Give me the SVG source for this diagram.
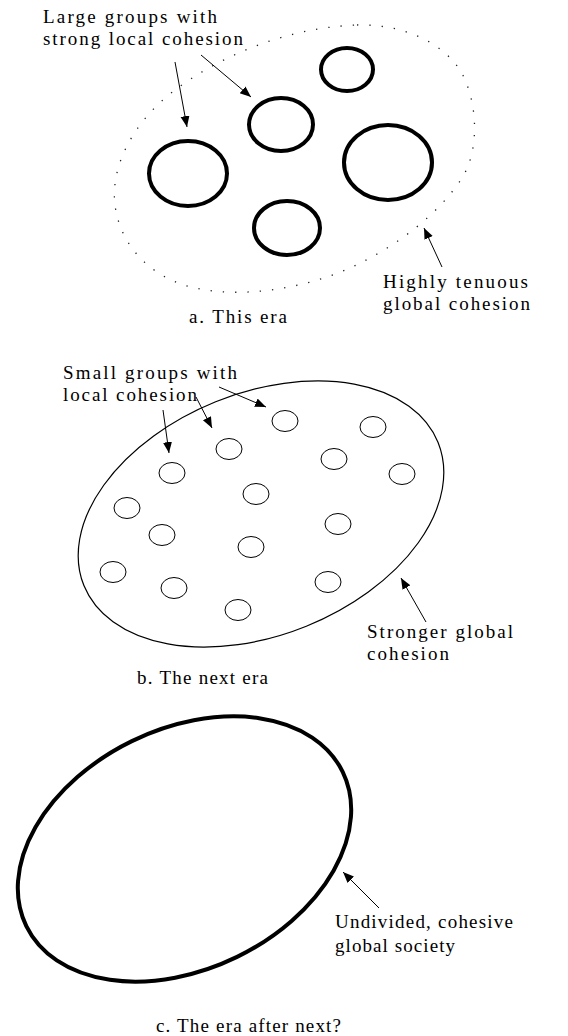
<svg xmlns="http://www.w3.org/2000/svg" width="568" height="1036" viewBox="0 0 568 1036">
<style>
  text { font-family: "Liberation Serif", "Times New Roman", serif; font-size: 19px; fill: #000; }
  .thick { fill: none; stroke: #000; stroke-width: 4; }
  .thin { fill: none; stroke: #000; stroke-width: 1.2; }
  .small { fill: none; stroke: #000; stroke-width: 1; }
  .dotted { fill: none; stroke: #222; stroke-width: 1.3; stroke-dasharray: 1.3 11; }
  .arrow { fill: none; stroke: #000; stroke-width: 1; marker-end: url(#ah); }
</style>
<defs>
  <marker id="ah" markerUnits="userSpaceOnUse" markerWidth="12" markerHeight="10" refX="11" refY="4.5" orient="auto">
    <path d="M0,0 L11,4.5 L0,9 z" fill="#000"/>
  </marker>
</defs>

<g id="era-a">
  <path id="a-global" class="dotted" d="M 357 25 C 400 24, 440 40, 460 70 C 478 100, 480 150, 462 178 C 440 212, 400 245, 350 268 C 300 290, 240 298, 195 288 C 150 278, 120 245, 115 205 C 110 165, 135 120, 175 90 C 215 60, 280 28, 357 25 Z"/>
  <g id="a-group1"><ellipse class="thick" cx="188" cy="173.5" rx="39" ry="32.5"/></g>
  <g id="a-group2"><ellipse class="thick" cx="281" cy="124.5" rx="32" ry="26.5"/></g>
  <g id="a-group3"><ellipse class="thick" cx="347" cy="69.5" rx="26" ry="21.5"/></g>
  <g id="a-group4"><ellipse class="thick" cx="388" cy="162.5" rx="44" ry="37.5"/></g>
  <g id="a-group5"><ellipse class="thick" cx="287" cy="228" rx="33" ry="27"/></g>
  <g id="a-label-large">
    <text x="43" y="23" textLength="174">Large groups with</text>
    <text x="43" y="45" textLength="200">strong local cohesion</text>
  </g>
  <g id="a-label-tenuous">
    <text x="383" y="288" textLength="145">Highly tenuous</text>
    <text x="383" y="310" textLength="147">global cohesion</text>
  </g>
  <g id="a-caption"><text x="189" y="323" textLength="98">a. This era</text></g>
</g>

<g id="era-b">
  <g id="b-global"><ellipse class="thin" cx="261" cy="514" rx="191" ry="121" transform="rotate(-22 261 514)"/></g>
  <g id="b-groups">
    <ellipse class="small" cx="285" cy="421" rx="13" ry="10.5"/>
    <ellipse class="small" cx="373" cy="427" rx="13" ry="10.5"/>
    <ellipse class="small" cx="229" cy="449" rx="13" ry="10.5"/>
    <ellipse class="small" cx="334" cy="459" rx="13" ry="10.5"/>
    <ellipse class="small" cx="172" cy="473" rx="13" ry="10.5"/>
    <ellipse class="small" cx="402" cy="474" rx="13" ry="10.5"/>
    <ellipse class="small" cx="256" cy="494" rx="13" ry="10.5"/>
    <ellipse class="small" cx="127" cy="508" rx="13" ry="10.5"/>
    <ellipse class="small" cx="338" cy="524" rx="13" ry="10.5"/>
    <ellipse class="small" cx="162" cy="535" rx="13" ry="10.5"/>
    <ellipse class="small" cx="251" cy="547" rx="13" ry="10.5"/>
    <ellipse class="small" cx="113" cy="572" rx="13" ry="10.5"/>
    <ellipse class="small" cx="328" cy="582" rx="13" ry="10.5"/>
    <ellipse class="small" cx="174" cy="588" rx="13" ry="10.5"/>
    <ellipse class="small" cx="238" cy="610" rx="13" ry="10.5"/>
  </g>
  <g id="b-label-small">
    <text x="63" y="379" textLength="174">Small groups with</text>
    <text x="63" y="401" textLength="134">local cohesion</text>
  </g>
  <g id="b-label-stronger">
    <text x="367" y="638" textLength="146">Stronger global</text>
    <text x="367" y="660" textLength="82">cohesion</text>
  </g>
  <g id="b-caption"><text x="137" y="684" textLength="131">b. The next era</text></g>
</g>

<g id="era-c">
  <g id="c-global"><ellipse class="thick" cx="184.5" cy="849" rx="176" ry="120" transform="rotate(-26 184.5 849)"/></g>
  <g id="c-label">
    <text x="335" y="928" textLength="178">Undivided, cohesive</text>
    <text x="335" y="952" textLength="120">global society</text>
  </g>
  <g id="c-caption"><text x="156" y="1032" textLength="185">c. The era after next?</text></g>
</g>

<g id="connectors">
  <line class="arrow" x1="175" y1="62" x2="187" y2="127"/>
  <line class="arrow" x1="201" y1="55" x2="251" y2="97"/>
  <line class="arrow" x1="442" y1="267" x2="424" y2="228"/>
  <line class="arrow" x1="163" y1="410" x2="169" y2="453"/>
  <line class="arrow" x1="196" y1="397" x2="212" y2="428"/>
  <line class="arrow" x1="219" y1="387" x2="266" y2="407"/>
  <line class="arrow" x1="426" y1="622" x2="401" y2="578"/>
  <line class="arrow" x1="379" y1="908" x2="343" y2="872"/>
</g>
</svg>
